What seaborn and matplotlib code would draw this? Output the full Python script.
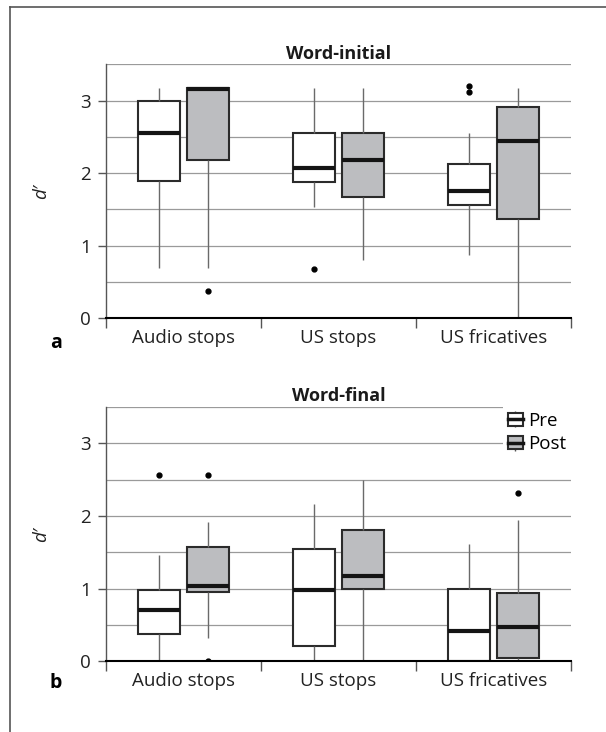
import pandas as pd
import matplotlib.pyplot as plt
import seaborn as sns
from matplotlib.patches import Patch
from matplotlib.lines import Line2D
from matplotlib.legend_handler import HandlerTuple

# d' values per listener (read so that the boxes match the figure)
categories = ['Audio stops', 'US stops', 'US fricatives']
sessions = ['Pre', 'Post']

# Word-initial
initial_audio_pre = [0.69, 1.20, 1.75, 1.89, 2.10, 2.35, 2.56, 2.70, 2.85, 3.00, 3.10, 3.18, 3.18]
initial_audio_post = [0.38, 0.69, 1.60, 2.18, 2.60, 3.00, 3.16, 3.17, 3.18, 3.18, 3.18, 3.18, 3.18]
initial_usstops_pre = [0.68, 1.54, 1.75, 1.88, 1.95, 2.00, 2.07, 2.25, 2.40, 2.555, 2.80, 3.00, 3.18]
initial_usstops_post = [0.81, 1.20, 1.50, 1.665, 1.90, 2.05, 2.18, 2.30, 2.45, 2.555, 2.80, 3.00, 3.18]
initial_usfric_pre = [0.87, 1.30, 1.50, 1.56, 1.65, 1.70, 1.75, 1.85, 2.00, 2.12, 2.555, 3.12, 3.20]
initial_usfric_post = [0.00, 0.60, 1.10, 1.37, 1.80, 2.20, 2.45, 2.60, 2.80, 2.91, 3.05, 3.18, 3.18]

# Word-final
final_audio_pre = [0.00, 0.20, 0.30, 0.38, 0.50, 0.60, 0.70, 0.80, 0.90, 0.98, 1.20, 1.46, 2.56]
final_audio_post = [0.00, 0.32, 0.70, 0.96, 1.00, 1.02, 1.04, 1.20, 1.40, 1.57, 1.75, 1.92, 2.56]
final_usstops_pre = [0.00, 0.05, 0.15, 0.21, 0.50, 0.80, 0.98, 1.20, 1.40, 1.55, 1.80, 2.00, 2.17]
final_usstops_post = [0.00, 0.50, 0.80, 0.99, 1.05, 1.10, 1.18, 1.40, 1.60, 1.81, 2.00, 2.20, 2.50]
final_usfric_pre = [0.00, 0.00, 0.00, 0.00, 0.15, 0.30, 0.42, 0.60, 0.80, 1.00, 1.20, 1.40, 1.62]
final_usfric_post = [0.00, 0.00, 0.02, 0.05, 0.20, 0.35, 0.47, 0.60, 0.80, 0.94, 1.40, 1.95, 2.32]


def to_long(groups):
    rows = []
    for (cat, ses), vals in groups.items():
        for v in vals:
            rows.append({'category': cat, 'session': ses, 'dprime': v})
    return pd.DataFrame(rows)


initial = to_long({
    ('Audio stops', 'Pre'): initial_audio_pre, ('Audio stops', 'Post'): initial_audio_post,
    ('US stops', 'Pre'): initial_usstops_pre, ('US stops', 'Post'): initial_usstops_post,
    ('US fricatives', 'Pre'): initial_usfric_pre, ('US fricatives', 'Post'): initial_usfric_post,
})
final = to_long({
    ('Audio stops', 'Pre'): final_audio_pre, ('Audio stops', 'Post'): final_audio_post,
    ('US stops', 'Pre'): final_usstops_pre, ('US stops', 'Post'): final_usstops_post,
    ('US fricatives', 'Pre'): final_usfric_pre, ('US fricatives', 'Post'): final_usfric_post,
})

plt.rcParams['font.family'] = ['Open Sans', 'DejaVu Sans']

box_edge = '#2b2b2b'
post_grey = '#bcbdc0'
palette = {'Pre': 'white', 'Post': post_grey}

fig = plt.figure(figsize=(6.06, 7.32), dpi=100)
W, H = 606, 732
ax_a = fig.add_axes([106 / W, 1 - 318.3 / H, 465 / W, 254 / H])
ax_b = fig.add_axes([106 / W, 1 - 661.3 / H, 465 / W, 254.3 / H])


def draw_panel(ax, data, title):
    sns.boxplot(data=data, x='category', y='dprime', hue='session',
                order=categories, hue_order=sessions, palette=palette,
                saturation=1, width=0.64, gap=0.15, linewidth=1.5,
                linecolor=box_edge, whis=1.5, showcaps=False, legend=False,
                medianprops=dict(color='#141414', linewidth=3),
                whiskerprops=dict(color='#6a6a6a', linewidth=1),
                flierprops=dict(marker='o', markerfacecolor='black',
                                markeredgecolor='black', markersize=3.5),
                ax=ax)
    ax.set_xlim(-0.5, 2.5)
    ax.set_ylim(0, 3.5)
    ax.set_yticks([0, 1, 2, 3])
    ax.set_yticks([0.5, 1.5, 2.5, 3.5], minor=True)
    ax.set_xticks([-0.5, 0.5, 1.5, 2.5], minor=True)
    ax.set_axisbelow(True)
    ax.grid(axis='y', which='both', color='#9a9a9a', linewidth=0.9)
    ax.grid(axis='x', which='both', visible=False)
    ax.tick_params(axis='x', which='major', length=0, pad=8, labelsize=13.5, colors='#222222')
    ax.tick_params(axis='x', which='minor', length=7, width=1, color='#555555')
    ax.tick_params(axis='y', which='major', length=6, width=1, color='#555555',
                   pad=5, labelsize=13.5, labelcolor='#222222')
    ax.tick_params(axis='y', which='minor', length=0)
    for side in ['top', 'right']:
        ax.spines[side].set_visible(False)
    ax.spines['left'].set_color('#555555')
    ax.spines['left'].set_linewidth(1)
    ax.spines['bottom'].set_color('black')
    ax.spines['bottom'].set_linewidth(1.5)
    ax.set_xlabel('')
    ax.set_ylabel('d′', style='italic', fontsize=13.5, color='#222222')
    ax.yaxis.set_label_coords(-0.12, 0.5)
    ax.set_title(title, fontweight='bold', fontsize=13, pad=4, color='#1a1a1a')


draw_panel(ax_a, initial, 'Word-initial')
draw_panel(ax_b, final, 'Word-final')


# legend with small box glyphs
def glyph(face):
    return (Line2D([], [], ls='none', marker='|', markersize=12, mec='#555555', mew=1),
            Patch(facecolor=face, edgecolor=box_edge, linewidth=1.5),
            Line2D([], [], color='#141414', lw=2.5))


ax_b.legend(handles=[glyph('white'), glyph(post_grey)], labels=sessions,
            handler_map={tuple: HandlerTuple(ndivide=1, pad=0)},
            loc='upper right', bbox_to_anchor=(1.0, 1.0), borderaxespad=0,
            frameon=True, facecolor='white', edgecolor='none', framealpha=1,
            fancybox=False, fontsize=13.5, handlelength=0.8, handleheight=0.7,
            handletextpad=0.3, labelspacing=0.3, borderpad=0.25)

fig.text(56 / W, 1 - 343 / H, 'a', fontweight='bold', fontsize=14, ha='center', va='center')
fig.text(56 / W, 1 - 683 / H, 'b', fontweight='bold', fontsize=14, ha='center', va='center')

# frame corner around the figure
fig.add_artist(Line2D([9.5 / W, 1], [1 - 6.5 / H, 1 - 6.5 / H], transform=fig.transFigure,
                      color='#555555', lw=1.2))
fig.add_artist(Line2D([9.5 / W, 9.5 / W], [0, 1 - 6.5 / H], transform=fig.transFigure,
                      color='#555555', lw=1.2))

fig.savefig('out.png', dpi=100)
